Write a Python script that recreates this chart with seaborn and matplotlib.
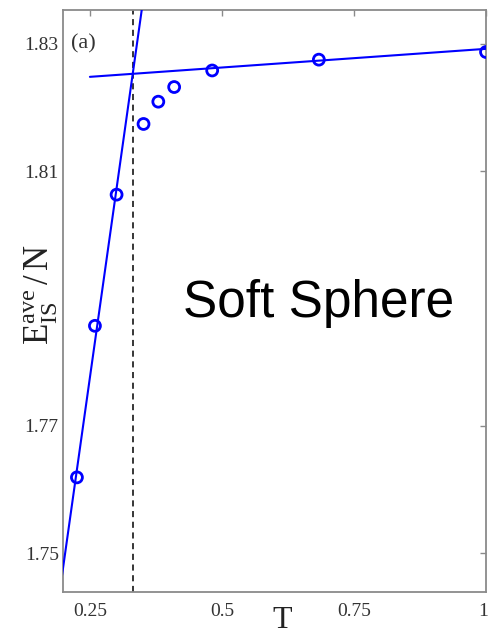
import matplotlib
matplotlib.use("Agg")
import matplotlib.pyplot as plt
import matplotlib.transforms as mtransforms
import seaborn as sns
import pandas as pd

# Average inherent-structure energy per particle vs temperature
temperature = [0.2254, 0.2595, 0.3005, 0.3515, 0.3795, 0.4095, 0.4815, 0.6835, 1.0]
energy_is = [1.7619, 1.7857, 1.8063, 1.8174, 1.8209, 1.8232, 1.8258, 1.8275, 1.8287]

# Linear fits: low-T (glassy) branch and high-T branch
low_fit_T = [0.19, 0.36]
low_fit_E = [1.7423, 1.8423]
high_fit_T = [0.25, 1.0]
high_fit_E = [1.8248, 1.8292]

# Crossover temperature where the two fits meet
T_cross = 0.3314

x_ticks = [0.25, 0.5, 0.75, 1.0]
x_tick_labels = ["0.25", "0.5", "0.75", "1"]
y_ticks = [1.75, 1.77, 1.81, 1.83]
y_tick_labels = ["1.75", "1.77", "1.81", "1.83"]

sns.set_theme(style="white")
plt.rcParams["font.family"] = ["Liberation Serif", "DejaVu Serif"]
plt.rcParams["mathtext.fontset"] = "custom"
plt.rcParams["mathtext.rm"] = "Liberation Serif"
plt.rcParams["mathtext.it"] = "Liberation Serif:italic"

points = pd.DataFrame({"T": temperature, "E": energy_is})
low_df = pd.DataFrame({"T": low_fit_T, "E": low_fit_E})
high_df = pd.DataFrame({"T": high_fit_T, "E": high_fit_E})

fig = plt.figure(figsize=(4.89, 6.36), dpi=100)
ax = fig.add_axes([0.1288, 0.0692, 0.8651, 0.9151])
ax.set_facecolor("white")

blue = "#0000ff"
sns.lineplot(data=low_df, x="T", y="E", ax=ax, color=blue, lw=1.5, zorder=3)
sns.lineplot(data=high_df, x="T", y="E", ax=ax, color=blue, lw=1.5, zorder=3)
ax.axvline(T_cross, color="black", lw=1.1, ls=(0, (4, 3)), zorder=2)
sns.scatterplot(data=points, x="T", y="E", ax=ax, marker="o", s=62,
                facecolors="none", edgecolor=blue, linewidth=2.0, zorder=4)

ax.set_xlim(0.199, 1.0)
ax.set_ylim(1.7439, 1.8353)
ax.set_xticks(x_ticks)
ax.set_xticklabels(x_tick_labels)
ax.set_yticks(y_ticks)
ax.set_yticklabels(y_tick_labels)

spine_gray = "#8a8a8a"
for s in ax.spines.values():
    s.set_visible(True)
    s.set_color(spine_gray)
    s.set_linewidth(1.3)
ax.tick_params(axis="both", which="major", direction="in", length=4, width=1.0,
               color=spine_gray, labelsize=14, labelcolor="#333333",
               top=True, right=True, pad=5)
ax.tick_params(axis="x", pad=8)
ax.tick_params(axis="y", pad=3)

# keep the last x tick label inside the figure edge
last = ax.get_xticklabels()[-1]
last.set_transform(last.get_transform() +
                   mtransforms.ScaledTranslation(-3 / 100, 0, fig.dpi_scale_trans))

ax.set_xlabel("T", fontsize=23, color="#222222")
ax.xaxis.label.set_va("bottom")
ax.xaxis.set_label_coords(0.518, -(635 - 592) / 582)
ax.set_ylabel(r"$\mathrm{E}^{\mathrm{ave}}_{\mathrm{IS}}\,/\,\mathrm{N}$",
              fontsize=25, color="#222222")
ax.yaxis.set_label_coords(-0.007, 0.51)

ax.text(0.02, 1.83, "(a)", transform=ax.get_yaxis_transform(),
        fontsize=16, color="#333333", ha="left", va="center")

fig.text(0.3742, 0.5016, "Soft Sphere", fontsize=37, color="black",
         family="Liberation Sans", ha="left", va="baseline")

fig.savefig("out.png", dpi=100, facecolor="white")
